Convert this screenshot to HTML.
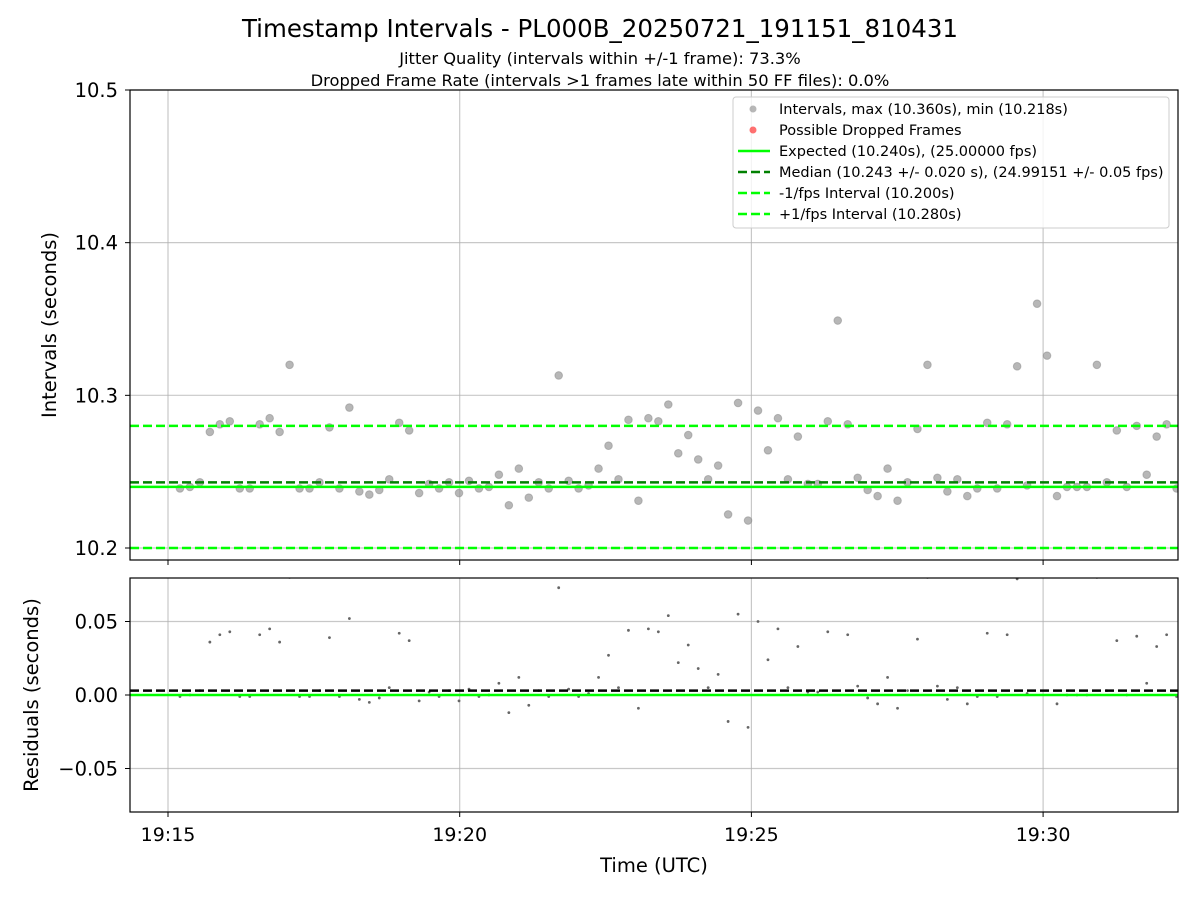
<!DOCTYPE html>
<html><head><meta charset="utf-8"><style>
html,body{margin:0;padding:0;background:#fff}
svg{display:block;font-family:"DejaVu Sans","Liberation Sans",sans-serif}
</style></head><body>
<svg id="chart" width="1200" height="900" xmlns="http://www.w3.org/2000/svg">
<text x="600" y="37" font-size="24.5" text-anchor="middle">Timestamp Intervals - PL000B_20250721_191151_810431</text>
<text x="600" y="64" font-size="16.3" text-anchor="middle">Jitter Quality (intervals within +/-1 frame): 73.3%</text>
<text x="600" y="86" font-size="16.3" text-anchor="middle">Dropped Frame Rate (intervals &gt;1 frames late within 50 FF files): 0.0%</text>
<g id="topPlot"></g>
<g id="botPlot"></g>
<text transform="translate(56,325) rotate(-90)" font-size="19.5" text-anchor="middle">Intervals (seconds)</text>
<text transform="translate(38,695) rotate(-90)" font-size="19.5" text-anchor="middle">Residuals (seconds)</text>
<text x="654" y="872" font-size="19.5" text-anchor="middle">Time (UTC)</text>
<g>
<rect x="733" y="97" width="436" height="131" rx="3" fill="#fff" fill-opacity="0.8" stroke="#ccc"/>
<circle cx="753" cy="109" r="3.5" fill="#999" fill-opacity="0.7"/>
<text x="779" y="114" font-size="14.5">Intervals, max (10.360s), min (10.218s)</text>
<circle cx="753" cy="130" r="3.5" fill="#f33" fill-opacity="0.7"/>
<text x="779" y="135" font-size="14.5">Possible Dropped Frames</text>
<line x1="738" x2="770" y1="151" y2="151" stroke="#0f0" stroke-width="2.5"/>
<text x="779" y="156" font-size="14.5">Expected (10.240s), (25.00000 fps)</text>
<line x1="738" x2="770" y1="172" y2="172" stroke="#008000" stroke-width="2.5" stroke-dasharray="9,4"/>
<text x="779" y="177" font-size="14.5">Median (10.243 +/- 0.020 s), (24.99151 +/- 0.05 fps)</text>
<line x1="738" x2="770" y1="193" y2="193" stroke="#0f0" stroke-width="2.5" stroke-dasharray="9,4"/>
<text x="779" y="198" font-size="14.5">-1/fps Interval (10.200s)</text>
<line x1="738" x2="770" y1="214" y2="214" stroke="#0f0" stroke-width="2.5" stroke-dasharray="9,4"/>
<text x="779" y="219" font-size="14.5">+1/fps Interval (10.280s)</text>
</g>
</svg>
<script>
const intervals=[10.239,10.240,10.243,10.276,10.281,10.283,10.239,10.239,10.281,10.285,10.276,10.320,10.239,10.239,10.243,10.279,10.239,10.292,10.237,10.235,10.238,10.245,10.282,10.277,10.236,10.242,10.239,10.243,10.236,10.244,10.239,10.240,10.248,10.228,10.252,10.233,10.243,10.239,10.313,10.244,10.239,10.241,10.252,10.267,10.245,10.284,10.231,10.285,10.283,10.294,10.262,10.274,10.258,10.245,10.254,10.222,10.295,10.218,10.290,10.264,10.285,10.245,10.273,10.242,10.242,10.283,10.349,10.281,10.246,10.238,10.234,10.252,10.231,10.243,10.278,10.320,10.246,10.237,10.245,10.234,10.239,10.282,10.239,10.281,10.319,10.241,10.360,10.326,10.234,10.240,10.240,10.240,10.320,10.243,10.277,10.240,10.280,10.248,10.273,10.281,10.239];
const startSec=12.3, stepSec=10.25; // seconds after 19:15:00
const expected=10.240, median=10.243, lowFps=10.200, highFps=10.280;
const xTickSecs=[0,300,600,900];
const xTickLabels=["19:15","19:20","19:25","19:30"];
const yTopTicks=[10.2,10.3,10.4,10.5];
const yTopLabels=["10.2","10.3","10.4","10.5"];
const yBotTicks=[-0.05,0,0.05];
const yBotLabels=["\u22120.05","0.00","0.05"];

const NS="http://www.w3.org/2000/svg";
const L=130,R=1178;
const xs=s=>168+s*(291.7/300);
const yT=v=>548-(v-10.2)*1526.7;
const yB=v=>695-v*1470;
function mk(p,tag,a){const e=document.createElementNS(NS,tag);for(const k in a)e.setAttribute(k,a[k]);p.appendChild(e);return e;}
const gTop=document.getElementById('topPlot'),gBot=document.getElementById('botPlot');
function frame(g,y0,y1,showLabels){
  xTickSecs.forEach((s,i)=>{
    const gl=mk(g,'line',{x1:xs(s),x2:xs(s),y1:y0,y2:y1,stroke:'#b0b0b0','stroke-width':1.2,'stroke-opacity':0.7});
    
    
    mk(g,'line',{x1:xs(s),x2:xs(s),y1:y1,y2:y1+5,stroke:'#000','stroke-width':1});
    if(showLabels){const t=mk(g,'text',{x:xs(s),y:y1+29,'font-size':19,'text-anchor':'middle'});t.textContent=xTickLabels[i];
      
      }
  });
}
function yticks(g,ticks,labels,fy){
  ticks.forEach((v,i)=>{
    const gl=mk(g,'line',{x1:L,x2:R,y1:fy(v),y2:fy(v),stroke:'#b0b0b0','stroke-width':1.2,'stroke-opacity':0.7});
    
    
    mk(g,'line',{x1:L-5,x2:L,y1:fy(v),y2:fy(v),stroke:'#000','stroke-width':1});
    const t=mk(g,'text',{x:L-12,y:fy(v)+7,'font-size':19.5,'text-anchor':'end'});t.textContent=labels[i];
    
    
  });
}
function hline(g,v,fy,color,dash){const a={x1:L,x2:R,y1:fy(v),y2:fy(v),stroke:color,'stroke-width':2.5};if(dash)a['stroke-dasharray']='9,4';return mk(g,'line',a);}
// top plot
frame(gTop,90,560,false);
yticks(gTop,yTopTicks,yTopLabels,yT);
const clipT=mk(gTop,'clipPath',{id:'ct'});mk(clipT,'rect',{x:L,y:90,width:R-L,height:470});
const pts=mk(gTop,'g',{'clip-path':'url(#ct)'});
intervals.forEach((v,i)=>{
  const c=mk(pts,'circle',{cx:xs(startSec+i*stepSec),cy:yT(v),r:3.8,fill:'#999','fill-opacity':0.7,stroke:'#888','stroke-opacity':0.5});
  
  
});
let e;
e=hline(gTop,expected,yT,'#0f0',false);
e=hline(gTop,median,yT,'#008000',true);
e=hline(gTop,lowFps,yT,'#0f0',true);
e=hline(gTop,highFps,yT,'#0f0',true);
mk(gTop,'rect',{x:L,y:90,width:R-L,height:470,fill:'none',stroke:'#000','stroke-width':1.2});
// bottom plot
frame(gBot,578,812,true);
yticks(gBot,yBotTicks,yBotLabels,yB);
const clipB=mk(gBot,'clipPath',{id:'cb'});mk(clipB,'rect',{x:L,y:578,width:R-L,height:234});
const rp=mk(gBot,'g',{'clip-path':'url(#cb)'});
intervals.forEach((v,i)=>{
  const c=mk(rp,'circle',{cx:xs(startSec+i*stepSec),cy:yB(v-expected),r:1.4,fill:'#666'});
  
  
});
e=hline(gBot,0,yB,'#0f0',false);
e=hline(gBot,median-expected,yB,'#000',true);
mk(gBot,'rect',{x:L,y:578,width:R-L,height:234,fill:'none',stroke:'#000','stroke-width':1.2});
</script>
</body></html>
